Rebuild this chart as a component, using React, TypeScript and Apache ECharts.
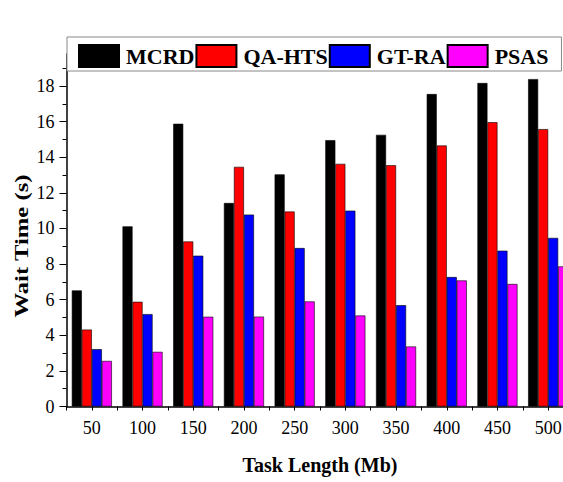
import React, { useEffect, useRef } from "react";
import * as echarts from "echarts";

const categories = ["50", "100", "150", "200", "250", "300", "350", "400", "450", "500"];
const seriesNames = ["MCRD", "QA-HTS", "GT-RA", "PSAS"];
const mcrd = [6.52, 10.12, 15.88, 11.43, 13.04, 14.96, 15.26, 17.55, 18.17, 18.39];
const qaHts = [4.32, 5.88, 9.27, 13.46, 10.95, 13.63, 13.55, 14.66, 15.97, 15.58];
const gtRa = [3.22, 5.19, 8.47, 10.78, 8.9, 11.0, 5.69, 7.27, 8.75, 9.47];
const psas = [2.56, 3.07, 5.04, 5.05, 5.9, 5.11, 3.37, 7.08, 6.88, 7.87];
const seriesColors = ["#000000", "#FF0000", "#0000FF", "#FF00FF"];
const majorTicks = [0, 2, 4, 6, 8, 10, 12, 14, 16, 18];
const minorTicks = [1, 3, 5, 7, 9, 11, 13, 15, 17, 19];

const SERIF = "'Liberation Serif', 'Times New Roman', serif";

export default function App() {
  const ref = useRef<HTMLDivElement>(null);
  useEffect(() => {
    if (!ref.current) return;
    const chart = echarts.init(ref.current, null, { renderer: "svg" });
    const values = [mcrd, qaHts, gtRa, psas];
    chart.setOption({
      animation: false,
      backgroundColor: "#ffffff",
      textStyle: { fontFamily: SERIF },
      grid: { left: 66.5, right: 0.5, top: 54, bottom: 75.5 },
      legend: {
        left: 67,
        top: 37,
        padding: [7, 13, 3, 11],
        itemWidth: 40,
        itemHeight: 22,
        itemGap: 1,
        icon: "rect",
        backgroundColor: "#ffffff",
        borderColor: "#888888",
        borderWidth: 1,
        data: seriesNames,
        textStyle: {
          fontFamily: SERIF,
          fontWeight: "bold",
          fontSize: 22,
          color: "#000",
          padding: [0, 0, 0, 2],
        },
      },
      xAxis: [
        {
          type: "category",
          data: categories,
          position: "bottom",
          axisLine: { lineStyle: { color: "#000", width: 1.5 } },
          axisTick: { show: true, alignWithLabel: false, length: 4, lineStyle: { color: "#000" } },
          axisLabel: { fontFamily: SERIF, fontSize: 18, color: "#000", margin: 12 },
          name: "Task Length (Mb)",
          nameLocation: "middle",
          nameGap: 48,
          nameTextStyle: { fontFamily: SERIF, fontWeight: "bold", fontSize: 20, color: "#000" },
          splitLine: { show: false },
        },
        {
          type: "category",
          data: categories,
          position: "bottom",
          axisLine: { show: false },
          axisTick: { show: true, alignWithLabel: true, length: 4, lineStyle: { color: "#000" } },
          axisLabel: { show: false },
          splitLine: { show: false },
        },
      ],
      yAxis: [
        {
          type: "value",
          min: 0,
          max: 19.8,
          interval: 2,
          axisLine: { show: true, lineStyle: { color: "#000", width: 1.5 } },
          axisTick: { show: true, length: 7, customValues: majorTicks, lineStyle: { color: "#000" } },
          axisLabel: {
            fontFamily: SERIF,
            fontSize: 18,
            color: "#000",
            margin: 12,
            customValues: majorTicks,
          },
          splitLine: { show: false },
        },
        {
          type: "value",
          min: 0,
          max: 19.8,
          interval: 2,
          position: "left",
          axisLine: { show: false },
          axisTick: { show: true, length: 4, customValues: minorTicks, lineStyle: { color: "#000" } },
          axisLabel: { show: false },
          splitLine: { show: false },
        },
      ],
      graphic: [
        {
          type: "text",
          x: 22,
          y: 246,
          rotation: Math.PI / 2,
          scaleX: 1.3,
          style: {
            text: "Wait Time (s)",
            fontFamily: SERIF,
            fontWeight: "bold",
            fontSize: 19,
            fill: "#000",
            textAlign: "center",
            textVerticalAlign: "middle",
          },
        },
      ],
      series: seriesNames.map((name, i) => ({
        name,
        type: "bar",
        xAxisIndex: 0,
        yAxisIndex: 0,
        data: values[i],
        barGap: "0%",
        barCategoryGap: "21%",
        itemStyle: { color: seriesColors[i], borderColor: "#000", borderWidth: 0.6 },
      })),
    });
    return () => chart.dispose();
  }, []);
  return (
    <div
      style={{
        position: "fixed",
        left: 0,
        top: 0,
        width: 563,
        height: 482,
        overflow: "hidden",
        background: "#fff",
      }}
    >
      <div ref={ref} style={{ width: 574, height: 482 }} />
    </div>
  );
}
